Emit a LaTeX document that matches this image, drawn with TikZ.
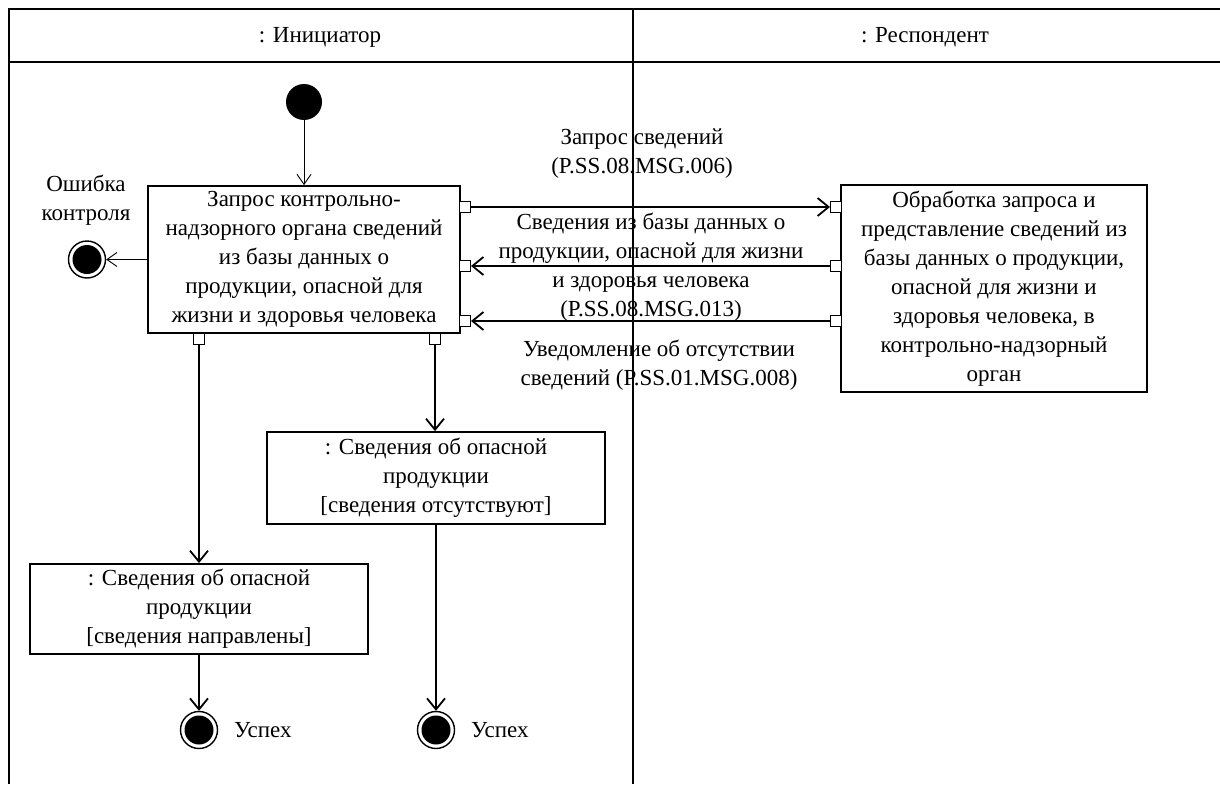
\documentclass[tikz,border=0pt]{standalone}
\usepackage{fontspec}
\setmainfont{Liberation Serif}
\usepackage{tikz}
\usetikzlibrary{arrows.meta}

\tikzset{
  actbox/.style={draw, line width=1.8pt, align=center, inner sep=0pt},
  pinbox/.style={draw, fill=white, line width=1pt, minimum size=11pt, inner sep=0pt},
  flow/.style={line width=1.8pt, -{Straight Barb[length=11pt, width=18pt]}},
  thinflow/.style={line width=0.9pt, -{Straight Barb[length=10pt, width=14pt]}},
  finalnode/.style={circle, draw, line width=1.4pt, minimum size=37pt, inner sep=0pt,
    path picture={\fill (path picture bounding box.center) circle (14.5pt);}},
  txt/.style={align=center, inner sep=0pt}
}

\begin{document}
\begin{tikzpicture}[x=1pt, y=-1pt, font=\fontsize{23}{29}\selectfont]

  \useasboundingbox (0,0) rectangle (1220,784);

  % swimlanes
  \draw[line width=2pt] (1220,9) -- (9,9) -- (9,784);
  \draw[line width=2pt] (9,62) -- (1220,62);
  \draw[line width=2pt] (633,9) -- (633,784);
  \node[txt] (initiator) at (320,37) {: Инициатор};
  \node[txt] (respondent) at (925,37) {: Респондент};

  % actions
  \node[circle, fill, minimum size=36pt, inner sep=0pt] (start) at (304,102) {};
  \node[actbox, minimum width=312pt, minimum height=147pt] (request) at (304,259.5)
    {Запрос контрольно-\\надзорного органа сведений\\из базы данных о\\продукции, опасной для\\жизни и здоровья человека};
  \node[actbox, minimum width=306pt, minimum height=207pt] (process) at (994,288.5)
    {Обработка запроса и\\представление сведений из\\базы данных о продукции,\\опасной для жизни и\\здоровья человека, в\\контрольно-надзорный\\орган};

  % objects
  \node[actbox, minimum width=338pt, minimum height=92pt] (absent) at (436,478)
    {: Сведения об опасной\\продукции\\{[}сведения отсутствуют{]}};
  \node[actbox, minimum width=338pt, minimum height=90pt] (sent) at (199,609)
    {: Сведения об опасной\\продукции\\{[}сведения направлены{]}};

  % final nodes
  \node[finalnode] (error) at (87,259.5) {};
  \node[txt] (errorlabel) at (86,200) {Ошибка\\контроля};
  \node[finalnode] (success1) at (199,730) {};
  \node[txt, anchor=west] (success1label) at (234,730) {Успех};
  \node[finalnode] (success2) at (436,730) {};
  \node[txt, anchor=west] (success2label) at (471,730) {Успех};

  % pins
  \foreach \name/\x/\y in {
    outreq/465/207, inresp/465/266, innone/465/321,
    rcvreq/836/207, outresp/836/266, outnone/836/321,
    outsent/199/339, outabsent/435/339
  } {
    \node[pinbox] (\name) at (\x,\y) {};
  }

  % flows
  \draw[thinflow] (start.south) -- (request.north);
  \draw[thinflow] (request.west) -- (error.east);
  \draw[flow] (outreq.east) -- (rcvreq.west);
  \draw[flow] (outresp.west) -- (inresp.east);
  \draw[flow] (outnone.west) -- (innone.east);
  \draw[flow] (outsent.south) -- (outsent.south |- sent.north);
  \draw[flow] (outabsent.south) -- (outabsent.south |- absent.north);
  \draw[flow] (sent.south) -- (success1.north);
  \draw[flow] (absent.south) -- (success2.north);

  % messages
  \node[txt] (msgreq) at (642,154) {Запрос сведений\\(P.SS.08.MSG.006)};
  \node[txt] (msgresp) at (651,267)
    {Сведения из базы данных о\\продукции, опасной для жизни\\и здоровья человека\\(P.SS.08.MSG.013)};
  \node[txt] (msgnone) at (659,365) {Уведомление об отсутствии\\сведений (P.SS.01.MSG.008)};

\end{tikzpicture}
\end{document}
